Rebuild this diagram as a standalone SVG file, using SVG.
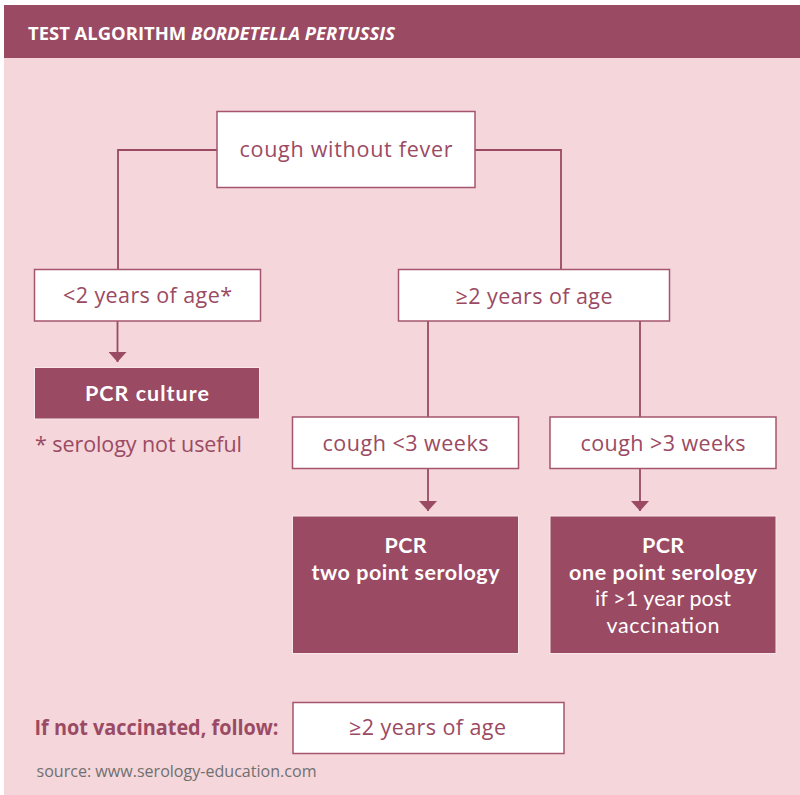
<svg xmlns="http://www.w3.org/2000/svg" width="800" height="795" viewBox="0 0 800 795">
  <defs>
    <style>
      .bg { fill: #F4D6DB; }
      .hdr { fill: #9B4A63; }
      .box { fill: #FFFFFF; stroke: #A5566E; stroke-width: 1.5; }
      .dark { fill: #9B4A63; stroke: #F9E6EA; stroke-width: 1; }
      .t { font-family: "Open Sans", "Noto Sans", "DejaVu Sans", sans-serif; font-size: 21.5px; fill: #9B4A63; }
      .c { text-anchor: middle; }
      .w { font-family: Lato, "Open Sans", "DejaVu Sans", sans-serif; font-size: 21.5px; fill: #FFFFFF; text-anchor: middle; }
      .b { font-weight: bold; }
      .conn { fill: none; stroke: #9B4A63; stroke-width: 1.8; }
      .src { font-family: "Open Sans", "Noto Sans", sans-serif; font-size: 16.5px; fill: #707070; }
      .title { font-family: "Open Sans", "Noto Sans", sans-serif; font-size: 17.5px; font-weight: bold; fill: #FFFFFF; }
    </style>
    <marker id="arr" viewBox="0 0 10 18" refX="10" refY="9" markerWidth="10" markerHeight="18" markerUnits="userSpaceOnUse" orient="auto">
      <path d="M0,0 L10,9 L0,18 Z" fill="#9B4A63"/>
    </marker>
  </defs>

  <rect x="4" y="5" width="796" height="790" class="bg"/>
  <rect x="4" y="5" width="796" height="53" class="hdr"/>
  <text class="title" x="28" y="39.5" textLength="367" lengthAdjust="spacingAndGlyphs">TEST ALGORITHM <tspan font-style="italic">BORDETELLA PERTUSSIS</tspan></text>

  <g id="connectors">
    <path class="conn" d="M217,150 H118 V269.5"/>
    <path class="conn" d="M475,150 H561 V269.5"/>
    <path class="conn" d="M117.5,321 V362" marker-end="url(#arr)"/>
    <path class="conn" d="M428,321 V417"/>
    <path class="conn" d="M640,321 V417"/>
    <path class="conn" d="M428,468.5 V511" marker-end="url(#arr)"/>
    <path class="conn" d="M640,468.5 V511" marker-end="url(#arr)"/>
  </g>

  <g id="cough-without-fever">
    <rect class="box" x="217" y="111.5" width="258" height="76"/>
    <text class="t c" x="346" y="157" textLength="213">cough without fever</text>
  </g>

  <g id="under-2">
    <rect class="box" x="34.5" y="269.5" width="226" height="51.5"/>
    <text class="t c" x="147.5" y="303" textLength="169">&lt;2 years of age*</text>
  </g>

  <g id="over-2">
    <rect class="box" x="398.5" y="269.5" width="271" height="51.5"/>
    <text class="t c" x="534" y="304" textLength="157">≥2 years of age</text>
  </g>

  <g id="pcr-culture">
    <rect class="dark" x="34.5" y="367.5" width="225" height="51.5"/>
    <text class="w b" x="147" y="400.5" textLength="124">PCR culture</text>
  </g>

  <g id="footnote">
    <text class="t" x="35" y="451.5" textLength="207">* serology not useful</text>
  </g>

  <g id="cough-lt-3">
    <rect class="box" x="292.5" y="417" width="226" height="51.5"/>
    <text class="t c" x="405.5" y="451" textLength="166">cough &lt;3 weeks</text>
  </g>

  <g id="cough-gt-3">
    <rect class="box" x="550" y="417" width="226" height="51.5"/>
    <text class="t c" x="663" y="451" textLength="165">cough &gt;3 weeks</text>
  </g>

  <g id="pcr-two-point">
    <rect class="dark" x="292.5" y="516" width="226" height="137.5"/>
    <text class="w b" x="405.5" y="552.5" textLength="42">PCR</text>
    <text class="w b" x="405.5" y="580" textLength="188">two point serology</text>
  </g>

  <g id="pcr-one-point">
    <rect class="dark" x="550" y="516" width="226" height="137.5"/>
    <text class="w b" x="663" y="552.5" textLength="42">PCR</text>
    <text class="w b" x="663" y="580" textLength="188">one point serology</text>
    <text class="w" x="663" y="606" textLength="136">if &gt;1 year post</text>
    <text class="w" x="663" y="632.5" textLength="113">vaccination</text>
  </g>

  <g id="not-vaccinated">
    <text class="t b" x="34.5" y="735" textLength="244" lengthAdjust="spacingAndGlyphs">If not vaccinated, follow:</text>
  </g>

  <g id="follow-over-2">
    <rect class="box" x="293" y="702.5" width="271" height="51"/>
    <text class="t c" x="427.5" y="735" textLength="157">≥2 years of age</text>
  </g>

  <text class="src" x="36.5" y="776.5" textLength="280" lengthAdjust="spacingAndGlyphs">source: www.serology-education.com</text>
</svg>
